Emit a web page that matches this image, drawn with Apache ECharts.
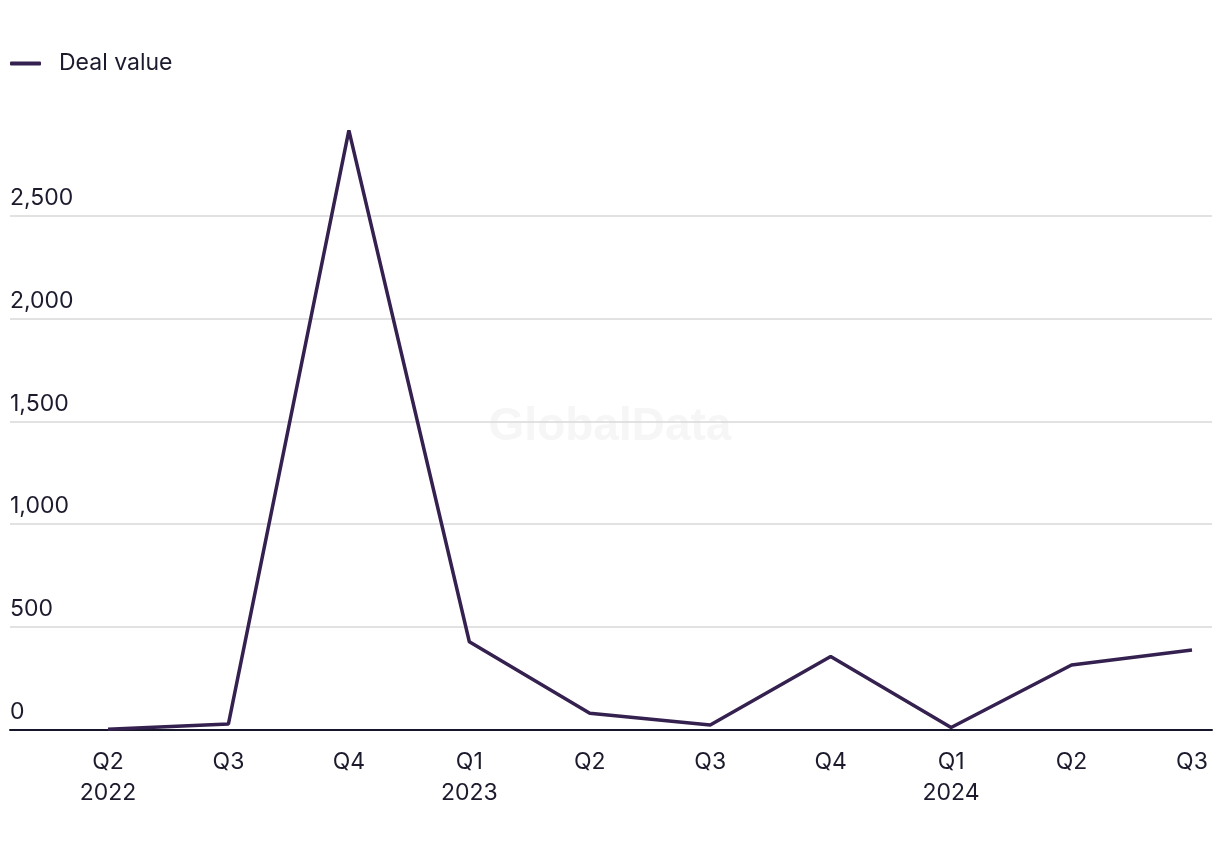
<!DOCTYPE html>
<html>
<head>
<meta charset="utf-8">
<script src="https://cdn.jsdelivr.net/npm/echarts@6/dist/echarts.min.js"></script>
<style>
html,body{margin:0;padding:0;background:#fff;}
#chart{width:1220px;height:850px;}
</style>
</head>
<body>
<div id="chart"></div>
<script>
const quarters = ['Q2\n2022','Q3','Q4','Q1\n2023','Q2','Q3','Q4','Q1\n2024','Q2','Q3'];
const dealValue = [1, 27, 2915, 427, 79, 22, 355, 10, 314, 387];
const seriesName = 'Deal value';
const yTicks = {min: 0, max: 3000, interval: 500};

const FONT = 'Inter, "Noto Sans", sans-serif';
const FS = 23;
const TXT = '#1b1b2d';
const LINE = '#35214f';

const chart = echarts.init(document.getElementById('chart'));
chart.setOption({
  animation: false,
  backgroundColor: '#ffffff',
  textStyle: {fontFamily: FONT},
  graphic: [{
    type: 'text', left: 'center', top: 404, z: 0, silent: true,
    style: {text: 'GlobalData', font: 'bold 46px "Liberation Sans", Arial, sans-serif', fill: '#f6f6f6'}
  }],
  legend: {
    left: 5, top: 47,
    icon: 'roundRect', itemWidth: 31, itemHeight: 4,
    textStyle: {fontSize: FS, color: TXT, fontFamily: FONT, padding: [0,0,0,13]},
    data: [seriesName]
  },
  grid: [
    {left: 10, right: 8, top: 113, bottom: 120.5, containLabel: false},
    {left: 108, right: 28, top: 113, bottom: 120.5, containLabel: false}
  ],
  xAxis: [
    {gridIndex: 0, type: 'value', min: 0, max: 1,
     axisLine: {show: true, onZero: false, lineStyle: {color: '#16162a', width: 2}},
     axisTick: {show: false}, axisLabel: {show: false}, splitLine: {show: false}},
    {gridIndex: 1, type: 'category', boundaryGap: false, data: quarters,
     axisLine: {show: false}, axisTick: {show: false}, splitLine: {show: false},
     axisLabel: {fontSize: FS, color: TXT, fontFamily: FONT, lineHeight: 31, margin: 17, interval: 0}}
  ],
  yAxis: [
    {gridIndex: 0, type: 'value', min: yTicks.min, max: yTicks.max, interval: yTicks.interval,
     axisLine: {show: false}, axisTick: {show: false},
     splitLine: {show: true, showMaxLine: false, lineStyle: {color: '#d9d9d9', width: 1.5}},
     axisLabel: {inside: true, showMaxLabel: false, margin: 0, align: 'left', verticalAlign: 'bottom',
       padding: [0,0,6,0], fontSize: FS, color: TXT, fontFamily: FONT,
       formatter: v => v.toLocaleString('en-US')}},
    {gridIndex: 1, type: 'value', min: yTicks.min, max: yTicks.max, interval: yTicks.interval, show: false,
     splitLine: {show: false}}
  ],
  series: [{
    name: seriesName, type: 'line', xAxisIndex: 1, yAxisIndex: 1,
    data: dealValue, showSymbol: false, symbol: 'none',
    lineStyle: {color: LINE, width: 3.5}, itemStyle: {color: LINE}, z: 5
  }]
});
</script>
</body>
</html>
